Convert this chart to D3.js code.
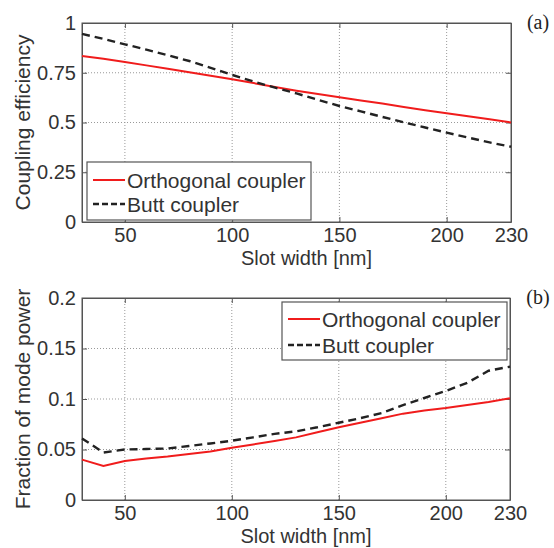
<!DOCTYPE html>
<html>
<head>
<meta charset="utf-8">
<script src="https://cdn.jsdelivr.net/npm/d3@7"></script>
<style>
  body { margin: 0; background: #fff; }
  svg { display: block; }
</style>
</head>
<body>
<div id="chart"></div>
<script>
// Slot width sweep (nm), shared by both panels
const slotWidth = [30, 40, 50, 60, 70, 80, 90, 100, 110, 120, 130, 140, 150, 160, 170, 180, 190, 200, 210, 220, 230];

// (a) coupling efficiency
const effOrthogonal = [0.834, 0.82, 0.804, 0.787, 0.77, 0.752, 0.735, 0.717, 0.698, 0.678, 0.66, 0.643, 0.627, 0.611, 0.595, 0.578, 0.562, 0.546, 0.531, 0.516, 0.50];
const effButt = [0.945, 0.92, 0.893, 0.866, 0.838, 0.809, 0.775, 0.739, 0.706, 0.675, 0.646, 0.614, 0.583, 0.556, 0.528, 0.501, 0.475, 0.449, 0.424, 0.40, 0.378];

// (b) fraction of mode power
const fracOrthogonal = [0.040, 0.0337, 0.0386, 0.041, 0.043, 0.0455, 0.048, 0.0518, 0.055, 0.0585, 0.062, 0.067, 0.072, 0.0765, 0.081, 0.0855, 0.0885, 0.091, 0.094, 0.097, 0.1007];
const fracButt = [0.061, 0.047, 0.050, 0.0505, 0.051, 0.0535, 0.056, 0.0587, 0.062, 0.0655, 0.068, 0.072, 0.0765, 0.081, 0.086, 0.094, 0.101, 0.108, 0.116, 0.128, 0.132];

const xTicks = [50, 100, 150, 200, 230];
const yTicksA = [0, 0.25, 0.5, 0.75, 1];
const yTicksB = [0, 0.05, 0.1, 0.15, 0.2];
const seriesNames = ['Orthogonal coupler', 'Butt coupler'];

const W = 554, H = 548;
const FONT = '"Liberation Sans", Arial, Helvetica, sans-serif';
const AXIS_COLOR = '#555';
const TEXT_COLOR = '#333';

const STYLE = [
  { stroke: '#f01c1c', width: 2, dash: null },
  { stroke: '#222', width: 2.4, dash: '8 5' },
];

const svg = d3.select('#chart').append('svg')
  .attr('width', W).attr('height', H)
  .attr('viewBox', `0 0 ${W} ${H}`);

svg.append('rect').attr('width', W).attr('height', H).attr('fill', '#fff');

function panel(opts) {
  const { left, right, top, bottom, yDomain, yTicks, yFmt, ys, ylabel, tag, legend } = opts;
  const x = d3.scaleLinear().domain([30, 230]).range([left, right]);
  const y = d3.scaleLinear().domain(yDomain).range([bottom, top]);
  const g = svg.append('g');

  // dotted grid
  g.append('g').selectAll('line')
    .data(xTicks.filter(t => t < 230))
    .join('line')
    .attr('x1', d => x(d)).attr('x2', d => x(d))
    .attr('y1', top).attr('y2', bottom)
    .attr('stroke', '#999').attr('stroke-width', 1)
    .attr('stroke-dasharray', '1 2');
  g.append('g').selectAll('line')
    .data(yTicks.slice(1, -1))
    .join('line')
    .attr('x1', left).attr('x2', right)
    .attr('y1', d => y(d)).attr('y2', d => y(d))
    .attr('stroke', '#999').attr('stroke-width', 1)
    .attr('stroke-dasharray', '1 2');

  // axes with inward ticks (MATLAB style)
  g.append('g').attr('transform', `translate(0,${bottom})`)
    .call(d3.axisBottom(x).tickValues(xTicks).tickSizeInner(-5).tickSizeOuter(0).tickPadding(6));
  g.append('g').attr('transform', `translate(${left},0)`)
    .call(d3.axisLeft(y).tickValues(yTicks).tickFormat(yFmt).tickSizeInner(-5).tickSizeOuter(0).tickPadding(6));
  g.append('g').attr('transform', `translate(0,${top})`)
    .call(d3.axisTop(x).tickValues(xTicks).tickSizeInner(-5).tickSizeOuter(0).tickFormat(''));
  g.append('g').attr('transform', `translate(${right},0)`)
    .call(d3.axisRight(y).tickValues(yTicks).tickSizeInner(-5).tickSizeOuter(0).tickFormat(''));

  g.selectAll('.domain').attr('stroke', AXIS_COLOR);
  g.selectAll('.tick line').attr('stroke', AXIS_COLOR);
  g.selectAll('.tick text').attr('font-family', FONT).attr('font-size', 20).attr('fill', TEXT_COLOR);

  g.append('rect').attr('x', left).attr('y', top)
    .attr('width', right - left).attr('height', bottom - top)
    .attr('fill', 'none').attr('stroke', AXIS_COLOR).attr('stroke-width', 1);

  // series
  const line = d3.line().x((d, i) => x(slotWidth[i])).y(d => y(d));
  ys.forEach((vals, k) => {
    g.append('path').datum(vals)
      .attr('d', line)
      .attr('fill', 'none')
      .attr('stroke', STYLE[k].stroke)
      .attr('stroke-width', STYLE[k].width)
      .attr('stroke-dasharray', STYLE[k].dash);
  });

  // labels
  g.append('text')
    .attr('x', (left + right) / 2 + 10).attr('y', bottom + 43)
    .attr('text-anchor', 'middle')
    .attr('font-family', FONT).attr('font-size', 20).attr('fill', TEXT_COLOR)
    .text('Slot width [nm]');
  g.append('text')
    .attr('transform', `translate(22,${(top + bottom) / 2}) rotate(-90)`)
    .attr('text-anchor', 'middle').attr('dominant-baseline', 'central')
    .attr('font-family', FONT).attr('font-size', 21).attr('fill', TEXT_COLOR)
    .text(ylabel);
  g.append('text')
    .attr('x', 538).attr('y', top + 6)
    .attr('text-anchor', 'middle')
    .attr('font-family', '"Liberation Serif", "Times New Roman", serif')
    .attr('font-size', 20).attr('fill', '#222')
    .text(tag);

  // legend box
  const lg = g.append('g');
  lg.append('rect')
    .attr('x', legend.x).attr('y', legend.y)
    .attr('width', legend.w).attr('height', legend.h)
    .attr('fill', '#fff').attr('stroke', AXIS_COLOR).attr('stroke-width', 1.2);
  seriesNames.forEach((name, k) => {
    const cy = legend.y + legend.rowTop + k * legend.rowGap;
    lg.append('line')
      .attr('x1', legend.x + 6).attr('x2', legend.x + 38)
      .attr('y1', cy).attr('y2', cy)
      .attr('stroke', STYLE[k].stroke)
      .attr('stroke-width', STYLE[k].width)
      .attr('stroke-dasharray', STYLE[k].dash ? '6 3' : null);
    lg.append('text')
      .attr('x', legend.x + 40).attr('y', cy)
      .attr('dominant-baseline', 'central')
      .attr('font-family', FONT).attr('font-size', 21).attr('fill', TEXT_COLOR)
      .text(name);
  });
}

panel({
  left: 82, right: 511, top: 23, bottom: 222,
  yDomain: [0, 1], yTicks: yTicksA,
  yFmt: d => d === 0 ? '0' : d === 1 ? '1' : String(d),
  ys: [effOrthogonal, effButt],
  ylabel: 'Coupling efficiency', tag: '(a)',
  legend: { x: 87, y: 162, w: 224, h: 58, rowTop: 18, rowGap: 24 },
});

panel({
  left: 82, right: 510, top: 298, bottom: 500,
  yDomain: [0, 0.2], yTicks: yTicksB,
  yFmt: d => String(d),
  ys: [fracOrthogonal, fracButt],
  ylabel: 'Fraction of mode power', tag: '(b)',
  legend: { x: 282, y: 302, w: 225, h: 58, rowTop: 17, rowGap: 26 },
});
</script>
</body>
</html>
